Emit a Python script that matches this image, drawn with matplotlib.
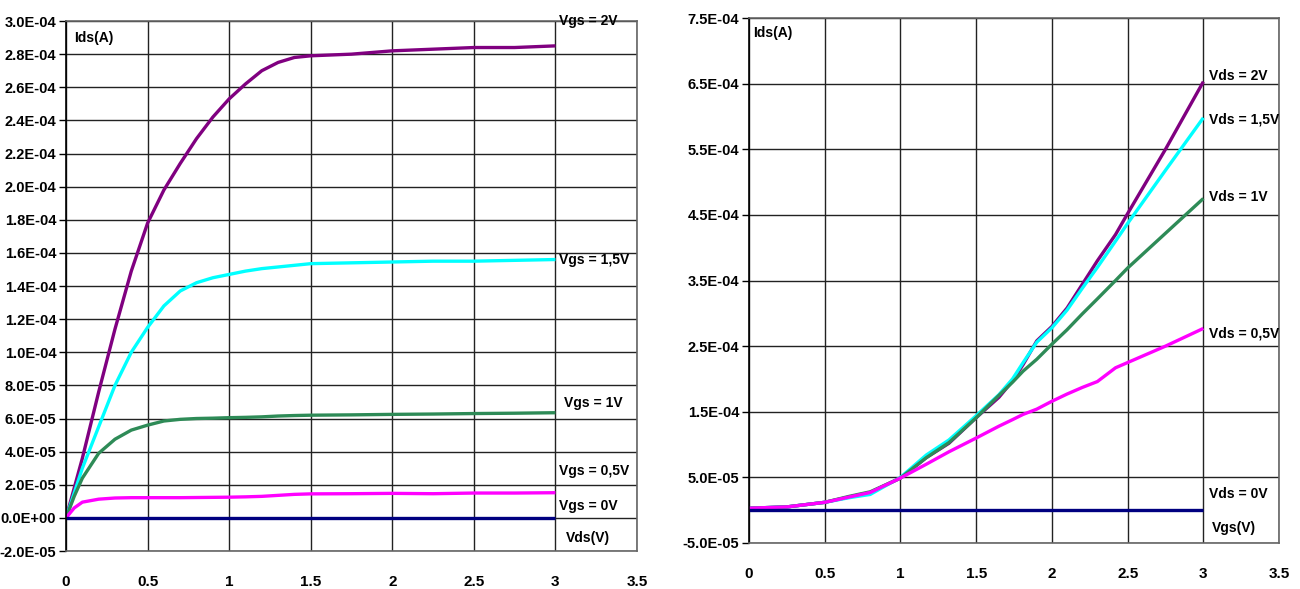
import matplotlib
matplotlib.use("Agg")
import matplotlib.pyplot as plt
from matplotlib.ticker import FuncFormatter, MultipleLocator
import numpy as np

plt.rcParams['font.family'] = ['Liberation Sans', 'DejaVu Sans']

# ---------- Left chart: Ids vs Vds for several Vgs ----------
vds = [0, 0.05, 0.1, 0.2, 0.3, 0.4, 0.5, 0.6, 0.7, 0.8, 0.9, 1.0, 1.1, 1.2, 1.3, 1.4, 1.5, 1.75, 2.0, 2.25, 2.5, 2.75, 3.0]
ids_vgs2 = [0, 1.8e-5, 3.6e-5, 7.6e-5, 1.14e-4, 1.49e-4, 1.78e-4, 1.98e-4, 2.14e-4, 2.29e-4, 2.42e-4, 2.53e-4, 2.62e-4, 2.70e-4, 2.75e-4, 2.78e-4, 2.79e-4, 2.80e-4, 2.82e-4, 2.83e-4, 2.84e-4, 2.84e-4, 2.85e-4]
ids_vgs15 = [0, 1.5e-5, 3.0e-5, 5.5e-5, 8.0e-5, 1.0e-4, 1.15e-4, 1.28e-4, 1.37e-4, 1.42e-4, 1.45e-4, 1.47e-4, 1.49e-4, 1.505e-4, 1.515e-4, 1.525e-4, 1.535e-4, 1.54e-4, 1.545e-4, 1.55e-4, 1.55e-4, 1.555e-4, 1.56e-4]
ids_vgs1 = [0, 1.3e-5, 2.4e-5, 3.9e-5, 4.75e-5, 5.3e-5, 5.6e-5, 5.85e-5, 5.95e-5, 6.0e-5, 6.02e-5, 6.05e-5, 6.07e-5, 6.1e-5, 6.15e-5, 6.18e-5, 6.2e-5, 6.22e-5, 6.25e-5, 6.27e-5, 6.3e-5, 6.32e-5, 6.35e-5]
ids_vgs05 = [0, 6.0e-6, 9.5e-6, 1.13e-5, 1.2e-5, 1.22e-5, 1.22e-5, 1.22e-5, 1.22e-5, 1.23e-5, 1.24e-5, 1.25e-5, 1.27e-5, 1.3e-5, 1.36e-5, 1.42e-5, 1.45e-5, 1.46e-5, 1.48e-5, 1.46e-5, 1.5e-5, 1.5e-5, 1.52e-5]
ids_vgs0 = [0] * len(vds)

# ---------- Right chart: Ids vs Vgs for several Vds ----------
vgs = [0, 0.25, 0.5, 0.66, 0.8, 1.0, 1.17, 1.32, 1.5, 1.65, 1.74, 1.81, 1.9, 2.0, 2.1, 2.2, 2.3, 2.42, 2.5, 2.75, 3.0]
ids_vds2 = [3e-6, 5e-6, 1.2e-5, 2.0e-5, 2.7e-5, 4.9e-5, 8.0e-5, 1.02e-4, 1.41e-4, 1.72e-4, 1.97e-4, 2.22e-4, 2.58e-4, 2.8e-4, 3.08e-4, 3.44e-4, 3.8e-4, 4.2e-4, 4.52e-4, 5.5e-4, 6.53e-4]
ids_vds15 = [3e-6, 5e-6, 1.2e-5, 1.9e-5, 2.4e-5, 5.0e-5, 8.4e-5, 1.07e-4, 1.44e-4, 1.76e-4, 2.0e-4, 2.25e-4, 2.56e-4, 2.78e-4, 3.05e-4, 3.38e-4, 3.7e-4, 4.1e-4, 4.37e-4, 5.18e-4, 5.98e-4]
ids_vds1 = [3e-6, 5e-6, 1.2e-5, 2.1e-5, 2.8e-5, 4.9e-5, 8.0e-5, 1.03e-4, 1.41e-4, 1.75e-4, 1.95e-4, 2.12e-4, 2.3e-4, 2.53e-4, 2.75e-4, 2.99e-4, 3.22e-4, 3.5e-4, 3.69e-4, 4.22e-4, 4.75e-4]
ids_vds05 = [3e-6, 5e-6, 1.2e-5, 2.0e-5, 2.7e-5, 4.9e-5, 7.0e-5, 8.9e-5, 1.10e-4, 1.28e-4, 1.38e-4, 1.46e-4, 1.54e-4, 1.66e-4, 1.77e-4, 1.87e-4, 1.96e-4, 2.17e-4, 2.25e-4, 2.5e-4, 2.77e-4]
ids_vds0 = [0] * len(vgs)

left_labels = ["Vgs = 2V", "Vgs = 1,5V", "Vgs = 1V", "Vgs = 0,5V", "Vgs = 0V"]
right_labels = ["Vds = 2V", "Vds = 1,5V", "Vds = 1V", "Vds = 0,5V", "Vds = 0V"]
colors = ["#800080", "#00FFFF", "#2E8B57", "#FF00FF", "#000080"]

fig = plt.figure(figsize=(13, 5.89), dpi=100)
axL = fig.add_axes([0.0508, 0.0645, 0.4392, 0.8998])
axR = fig.add_axes([0.5762, 0.0781, 0.4077, 0.8913])

def sci(v, pos):
    s = '{:.1E}'.format(v)
    if abs(v) < 1e-12:
        s = '0.0E+00'
    return s

def style(ax, ylo, yhi, ystep, ystart):
    ax.set_xlim(0, 3.5)
    ax.set_ylim(ylo, yhi)
    ax.xaxis.set_major_locator(MultipleLocator(0.5))
    ax.set_yticks(np.arange(ystart, yhi + ystep / 2, ystep))
    ax.yaxis.set_major_formatter(FuncFormatter(sci))
    ax.xaxis.set_major_formatter(FuncFormatter(lambda v, p: ('%g' % v)))
    ax.grid(True, color='#222222', lw=1.0)
    ax.set_axisbelow(True)
    for s in ax.spines.values():
        s.set_color('#666666')
        s.set_linewidth(1.2)
    ax.spines['left'].set_color('#000000')
    ax.tick_params(axis='y', length=5, width=1, direction='out', pad=2, labelsize=10.5)
    ax.tick_params(axis='x', length=0, pad=17, labelsize=11)
    for t in ax.get_xticklabels() + ax.get_yticklabels():
        t.set_fontweight('bold')

# Left
style(axL, -2e-5, 3.0e-4, 2e-5, -2e-5)
for y, c in zip([ids_vgs2, ids_vgs15, ids_vgs1, ids_vgs05, ids_vgs0], colors):
    axL.plot(vds, y, color=c, lw=2.4, solid_capstyle='butt')
left_pos = [3.0e-4, 1.56e-4, 6.95e-5, 2.84e-5, 7.3e-6]
left_x = [3.02, 3.02, 3.05, 3.02, 3.02]
for lab, yp, xp in zip(left_labels, left_pos, left_x):
    axL.text(xp, yp, lab, fontsize=10, fontweight='bold', va='center', ha='left')
axL.text(3.2, -1.2e-5, "Vds(V)", fontsize=10, fontweight='bold', va='center', ha='center')
axL.text(0.05, 2.9e-4, "Ids(A)", fontsize=10, fontweight='bold', va='center', ha='left')

# Right
style(axR, -5e-5, 7.5e-4, 1e-4, -5e-5)
for y, c in zip([ids_vds2, ids_vds15, ids_vds1, ids_vds05, ids_vds0], colors):
    axR.plot(vgs, y, color=c, lw=2.4, solid_capstyle='butt')
right_pos = [6.62e-4, 5.95e-4, 4.77e-4, 2.7e-4, 2.4e-5]
for lab, yp in zip(right_labels, right_pos):
    axR.text(3.04, yp, lab, fontsize=10, fontweight='bold', va='center', ha='left')
axR.text(3.2, -2.7e-5, "Vgs(V)", fontsize=10, fontweight='bold', va='center', ha='center')
axR.text(0.03, 7.27e-4, "Ids(A)", fontsize=10, fontweight='bold', va='center', ha='left')

fig.savefig("out.png", dpi=100)
